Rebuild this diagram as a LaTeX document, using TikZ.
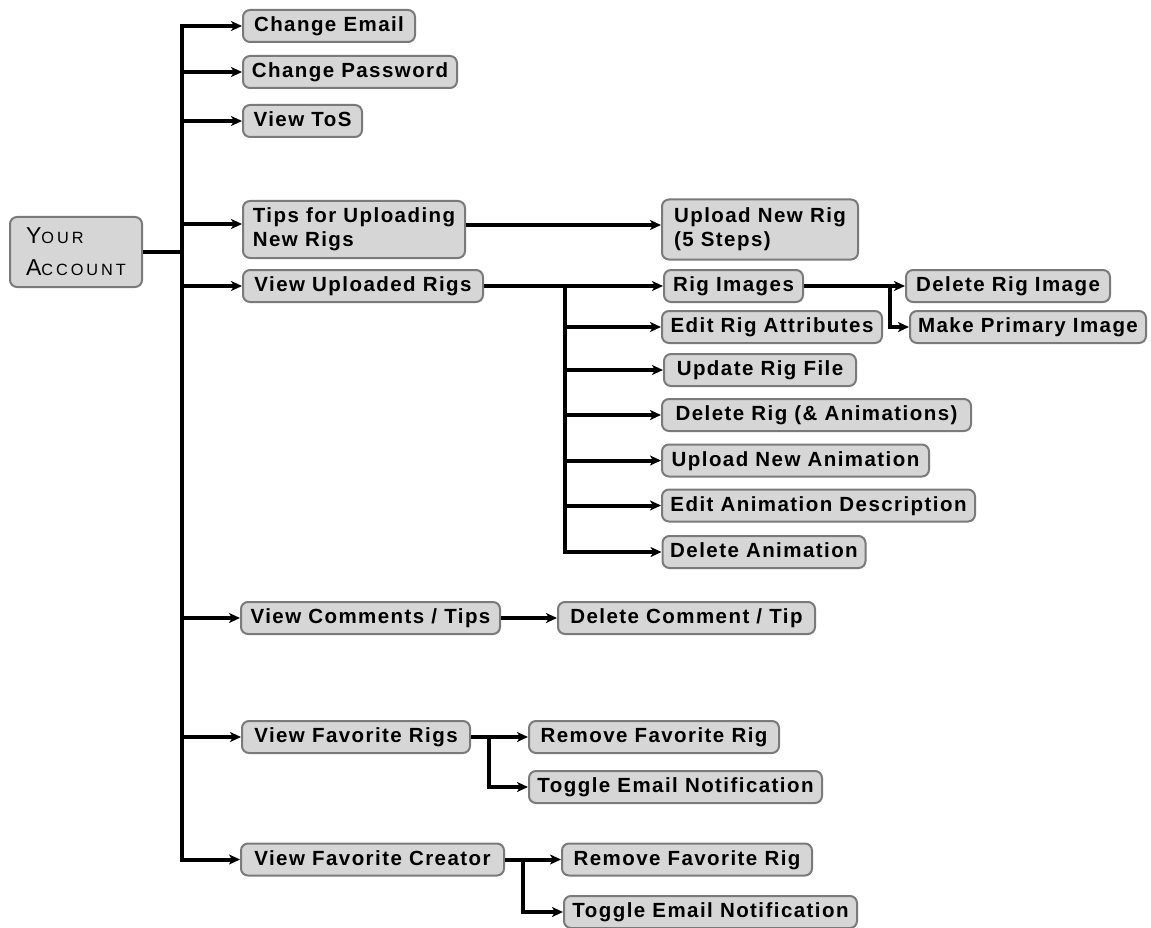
\documentclass[tikz,border=0pt]{standalone}
\usepackage{fontspec}
\setmainfont{Liberation Sans}
\newfontfamily\boxfont[LetterSpace=7]{Liberation Sans}
\newfontfamily\accfont[LetterSpace=18]{Liberation Sans}
\usetikzlibrary{arrows.meta}
\definecolor{boxfill}{HTML}{D6D6D6}
\definecolor{boxborder}{HTML}{7A7A7A}
\begin{document}
\begin{tikzpicture}[x=1pt,y=-1pt,
  boxbase/.style={draw=boxborder, fill=boxfill, line width=2pt, rounded corners=7pt,
    inner xsep=4pt, inner ysep=2pt, minimum height=32pt, text=black,
    font=\boxfont\bfseries\fontsize{20.5}{24}\selectfont},
  box/.style={boxbase, text height=14.5pt, text depth=3.5pt},
  box2/.style={boxbase, align=left},
  conn/.style={line width=4pt, line join=miter, draw=black},
  arr/.style={conn, -{Stealth[length=11pt,width=10pt,inset=3pt]}}]
\useasboundingbox (0,0) rectangle (1151,928);

% root
\node[boxbase, minimum width=132pt, minimum height=70pt, align=left,
  font=\accfont\fontsize{23}{32}\selectfont] (acc) at (76,252)
  {Y{\fontsize{16.3}{32}\selectfont OUR}\\A{\fontsize{16.3}{32}\selectfont CCOUNT}};

% first level
\node[box, minimum width=172pt] (ce)  at (329,26)    {Change Email};
\node[box, minimum width=214pt] (cp)  at (350,72)    {Change Password};
\node[box, minimum width=119pt] (tos) at (302.5,121) {View ToS};
\node[box2, minimum width=222pt, minimum height=57pt] (tips) at (354,229.5) {Tips for Uploading\\New Rigs};
\node[box, minimum width=240pt] (vur) at (363,286)   {View Uploaded Rigs};
\node[box, minimum width=259pt] (vct) at (370.5,618) {View Comments / Tips};
\node[box, minimum width=228pt] (vfr) at (356,737)   {View Favorite Rigs};
\node[box, minimum width=263pt] (vfc) at (372.5,859.5) {View Favorite Creator};

% second level
\node[box2, minimum width=196pt, minimum height=60pt] (upl) at (760,229.5) {Upload New Rig\\(5 Steps)};
\node[box, minimum width=139pt] (ri)  at (733.5,286) {Rig Images};
\node[box, minimum width=220pt] (era) at (772,327)   {Edit Rig Attributes};
\node[box, minimum width=192pt] (urf) at (760,370)   {Update Rig File};
\node[box, minimum width=309pt] (dra) at (816.5,415) {Delete Rig (\& Animations)};
\node[box, minimum width=267pt] (una) at (795.5,460.5) {Upload New Animation};
\node[box, minimum width=313pt] (ead) at (818.5,505.5) {Edit Animation Description};
\node[box, minimum width=203pt] (da)  at (764,552)   {Delete Animation};
\node[box, minimum width=257pt] (dct) at (686.5,618) {Delete Comment / Tip};
\node[box, minimum width=250pt] (rfr1) at (654,737)  {Remove Favorite Rig};
\node[box, minimum width=293pt] (ten1) at (675.5,787) {Toggle Email Notification};
\node[box, minimum width=250pt] (rfr2) at (687,859.5) {Remove Favorite Rig};
\node[box, minimum width=293pt] (ten2) at (710.5,912) {Toggle Email Notification};

% third level
\node[box, minimum width=204pt] (dri) at (1008,286) {Delete Rig Image};
\node[box, minimum width=236pt] (mpi) at (1028,327) {Make Primary Image};

% trunk
\coordinate (t) at (182,0);
\draw[arr] (vfc.west -| t) |- (ce.west);
\draw[arr] (ce.west -| t) |- (vfc.west);
\draw[conn] (acc.east) -- ([xshift=2pt]acc.east -| t);
\foreach \n in {cp,tos,vur,vct,vfr}
  \draw[arr] ([xshift=-2pt]\n.west -| t) -- (\n.west);
\draw[arr] ([xshift=-2pt,yshift=5.5pt]tips.west -| t) -- ([yshift=5.5pt]tips.west);

% tips -> upload
\draw[arr] ([yshift=4.5pt]tips.east) -- ([yshift=4.5pt]upl.west);

% uploaded rigs branch
\coordinate (s) at (565,0);
\draw[arr] (vur.east) -- (ri.west);
\draw[arr] (vur.east -| s) |- (da.west);
\foreach \n in {era,urf,dra,una,ead}
  \draw[arr] ([xshift=-2pt]\n.west -| s) -- (\n.west);

% rig images branch
\coordinate (r) at (890,0);
\draw[arr] (ri.east) -- (dri.west);
\draw[arr] (ri.east -| r) |- (mpi.west);

% comments
\draw[arr] (vct.east) -- (dct.west);

% favorite rigs
\coordinate (f) at (489,0);
\draw[arr] (vfr.east) -- (rfr1.west);
\draw[arr] (vfr.east -| f) |- (ten1.west);

% favorite creator
\coordinate (g) at (523,0);
\draw[arr] (vfc.east) -- (rfr2.west);
\draw[arr] (vfc.east -| g) |- (ten2.west);
\end{tikzpicture}
\end{document}
